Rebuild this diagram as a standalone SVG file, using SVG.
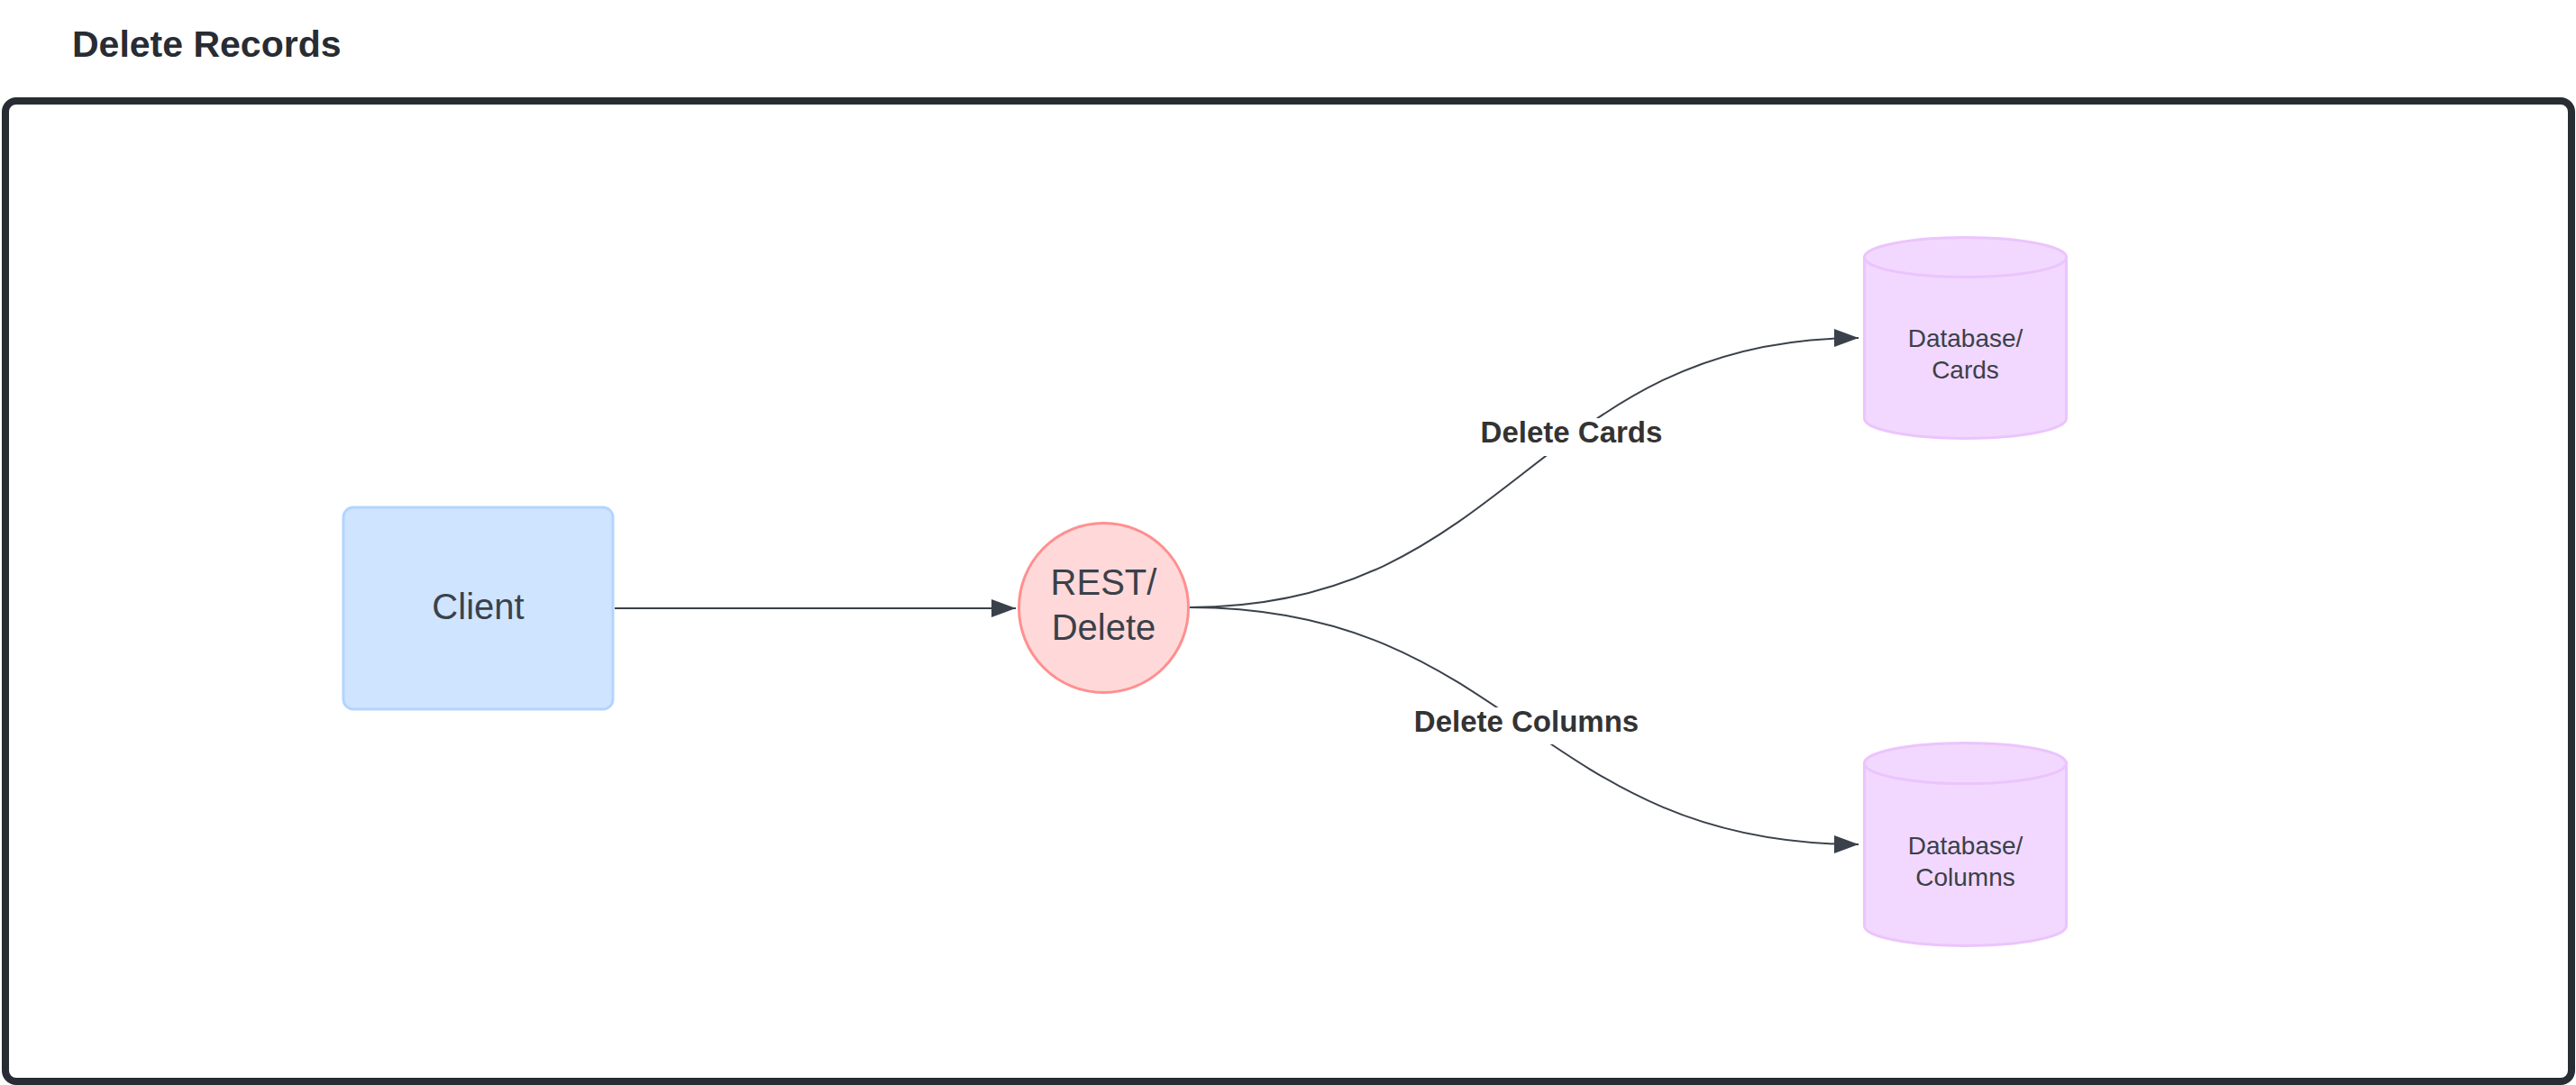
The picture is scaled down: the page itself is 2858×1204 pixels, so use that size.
<svg xmlns="http://www.w3.org/2000/svg" width="2858" height="1204" viewBox="0 0 2858 1204">
<style>
.title{font-family:"Liberation Sans",Arial,sans-serif;font-weight:bold;font-size:41px;fill:#282c33}
.node{font-family:"Liberation Sans",Arial,sans-serif;font-size:40px;fill:#3a414a;text-anchor:middle}
.db{font-family:"Liberation Sans",Arial,sans-serif;font-size:28px;fill:#3a414a;text-anchor:middle}
.lbl{font-family:"Liberation Sans",Arial,sans-serif;font-weight:bold;font-size:33px;fill:#333333;text-anchor:middle}
.edge{fill:none;stroke:#3a414a;stroke-width:2}
.cyl{fill:#f2d8fe;stroke:#ebc4fd;stroke-width:3}
</style>
<defs>
<marker id="arrow" markerUnits="userSpaceOnUse" markerWidth="28" markerHeight="22" refX="27" refY="10" orient="auto">
<path d="M0,0 L27,10 L0,20 Z" fill="#3a414a"/>
</marker>
</defs>
<rect width="2858" height="1204" fill="#ffffff"/>
<text class="title" x="80" y="63">Delete Records</text>
<rect x="6" y="112" width="2847" height="1088" rx="12" fill="#ffffff" stroke="#282c33" stroke-width="8"/>
<g id="connectors">
<path class="edge" d="M682,675 L1127,675" marker-end="url(#arrow)"/>
<path class="edge" d="M1320,674 C1678,674 1704,375 2062,375" marker-end="url(#arrow)"/>
<path class="edge" d="M1320,674 C1678,674 1704,937 2062,937" marker-end="url(#arrow)"/>
<g id="label-cards">
<rect x="1636" y="464" width="215" height="42" fill="#ffffff"/>
<text class="lbl" x="1743.5" y="491">Delete Cards</text>
</g>
<g id="label-columns">
<rect x="1561" y="785" width="265" height="41" fill="#ffffff"/>
<text class="lbl" x="1693.5" y="812">Delete Columns</text>
</g>
</g>
<g id="client">
<rect x="381" y="563" width="299" height="224" rx="11" fill="#cfe4ff" stroke="#b3d4ff" stroke-width="3"/>
<text class="node" x="530.5" y="687">Client</text>
</g>
<g id="rest-delete">
<circle cx="1224.5" cy="674.5" r="94" fill="#ffd9d9" stroke="#ff8f8f" stroke-width="3"/>
<text class="node" x="1224.5" y="660">REST/</text>
<text class="node" x="1224.5" y="710">Delete</text>
</g>
<g id="db-cards">
<path class="cyl" d="M2068.5,285.5 L2068.5,464.5 A112,22 0 0 0 2292.5,464.5 L2292.5,285.5 Z"/>
<ellipse class="cyl" cx="2180.5" cy="285.5" rx="112" ry="22"/>
<text class="db" x="2180.5" y="385">Database/</text>
<text class="db" x="2180.5" y="420">Cards</text>
</g>
<g id="db-columns">
<path class="cyl" d="M2068.5,847 L2068.5,1027.5 A112,22 0 0 0 2292.5,1027.5 L2292.5,847 Z"/>
<ellipse class="cyl" cx="2180.5" cy="847" rx="112" ry="22.5"/>
<text class="db" x="2180.5" y="948">Database/</text>
<text class="db" x="2180.5" y="983">Columns</text>
</g>
</svg>
